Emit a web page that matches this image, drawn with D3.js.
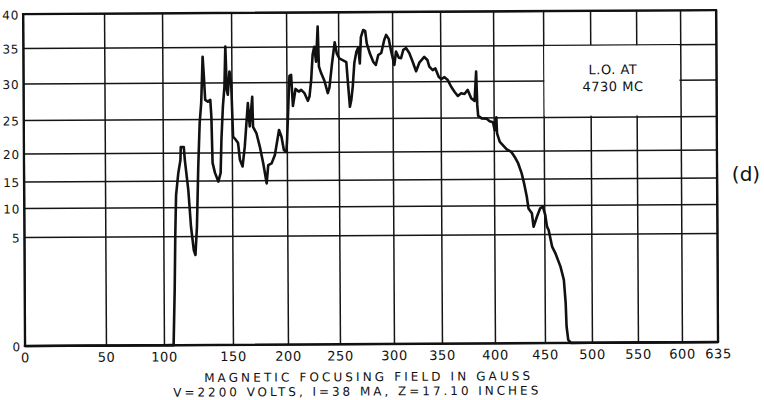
<!DOCTYPE html>
<html>
<head>
<meta charset="utf-8">
<script src="https://cdn.jsdelivr.net/npm/d3@7"></script>
<style>
  html, body { margin: 0; padding: 0; background: #ffffff; }
  svg { display: block; }
  text { font-family: "DejaVu Sans", "Liberation Sans", sans-serif; fill: #111; }
</style>
</head>
<body>
<svg id="chart" width="764" height="400"></svg>
<script>
// ---------------- data ----------------
const xTickValues = [0, 50, 100, 150, 200, 250, 300, 350, 400, 450, 500, 550, 600, 635];
const yTickValues = [0, 5, 10, 15, 20, 25, 30, 35, 40];

// magnetic focusing field (gauss)
const gauss = [0, 20, 40, 60, 80, 100, 105,
  107.0,108.0,108.7,109.4,111.1,112.7,113.0,115.2,115.9,118.3,
  120.1,122.0,123.2,124.4,125.6,126.8,128.0,128.8,129.2,129.9,
  130.9,132.8,134.6,135.3,136.0,137.7,140.1,141.8,142.5,143.7,
  144.9,145.7,146.6,147.3,148.6,149.8,151.2,153.6,155.7,157.3,
  159.7,161.8,164.8,166.4,168.8,169.4,172.5,175.5,178.5,181.5,
  183.0,186.1,189.1,193.0,195.2,197.3,199.5,200.3,201.9,202.9,
  204.5,206.1,208.7,211.8,214.1,217.3,220.5,222.1,223.8,225.3,
  226.9,228.6,230.3,231.3,233.4,236.5,239.7,241.3,243.9,246.6,
  248.6,250.9,254.0,257.4,258.6,260.5,261.8,263.2,264.8,266.7,
  268.5,269.9,271.0,273.1,275.0,276.4,279.2,282.4,284.7,287.0,
  289.8,292.6,294.4,296.8,299.1,302.1,303.9,306.8,309.1,311.5,
  314.3,317.7,321.1,324.7,328.1,333.3,336.5,338.5,342.0,344.8,
  348.2,350.7,353.8,356.9,360.1,363.2,366.3,369.5,372.6,375.7,
  378.9,382.1,383.7,384.6,385.4,388.7,393.1,396.2,399.3,401.0,
  402.7,403.3,406.0,412.7,417.7,421.0,424.3,427.7,430.0,432.7,
  434.3,437.7,439.3,442.7,446.0,448.7,451.1,452.9,454.6,458.2,
  461.7,467.0,470.5,472.3,473.1,474.8,477.7,
  500, 530, 560, 600, 635];

// output reading
const output = [0, 0, 0, 0, 0, 0, 0,
  0,2.52,5.52,12.26,16.34,18.66,20.82,20.82,18.66,13.21,
  6.6,4.36,4.13,6.6,17.46,24.4,27.19,31.34,33.63,31.34,
  27.6,27.37,27.6,25.32,18.13,16.34,14.77,16.34,21.87,26.68,
  29.42,35.04,28.97,28.29,31.52,29.89,22.36,21.87,21.37,18.66,
  17.46,20.87,27.15,23.85,27.99,23.78,22.79,20.79,17.98,14.38,
  17.68,17.98,19.46,23.28,22.28,20.3,20.0,21.79,27.53,30.85,
  30.99,26.71,29.04,28.67,28.9,28.45,27.4,27.99,30.28,33.8,
  34.93,32.82,37.91,32.15,31.23,30.14,28.45,29.18,32.54,35.59,
  33.94,33.27,33.03,32.75,30.21,26.55,27.47,29.29,32.61,34.15,
  34.79,32.56,36.32,37.35,37.21,35.4,33.97,32.75,32.32,33.73,
  34.01,35.88,36.62,36.03,34.15,32.32,34.2,33.31,33.27,34.44,
  34.68,33.97,32.79,31.41,32.61,33.41,32.99,32.04,31.55,31.79,
  30.61,30.28,30.56,30.14,29.22,28.53,27.95,28.32,28.22,28.77,
  27.63,27.26,31.31,26.71,25.21,24.85,24.81,24.4,24.25,23.06,
  25.0,22.61,21.31,20.22,19.73,18.84,17.71,15.93,14.15,11.57,
  9.43,8.57,6.26,7.98,9.43,9.71,8.28,6.26,5.69,4.42,
  4.11,3.5,2.89,1.82,0.75,0.14,0,
  0, 0, 0, 0, 0];

const xTitle = "MAGNETIC FOCUSING FIELD IN GAUSS";
const xSubtitle = "V=2200 VOLTS, I=38 MA, Z=17.10 INCHES";
const boxLines = ["L.O. AT", "4730 MC"];
const panelLabel = "(d)";

// ---------------- layout (hand-ruled, non-uniform grid of the original) ----------------
const xGridPx = [24, 105, 163, 232, 287, 339, 393, 441, 494, 544, 591, 637, 681, 717];
const yGridPx = [344, 235, 206, 179.5, 151.5, 118, 81.5, 46, 12];

const x = d3.scaleLinear().domain(xTickValues).range(xGridPx);
const y = d3.scaleLinear().domain(yTickValues).range(yGridPx);

const svg = d3.select("#chart");
svg.append("rect").attr("width", 764).attr("height", 400).attr("fill", "#ffffff");

const g = svg.append("g").attr("transform", "rotate(-0.33, 370, 178)");

const plotLeft = x(0), plotRight = x(635), plotTop = y(40), plotBottom = y(0);

// vertical grid
const xGrid = g.append("g").attr("transform", `translate(0,${plotBottom})`)
  .call(d3.axisBottom(x).tickValues(xTickValues).tickSizeInner(-(plotBottom - plotTop)).tickSizeOuter(0).tickFormat(""));
xGrid.select(".domain").remove();
xGrid.selectAll("line").attr("stroke", "#151515").attr("stroke-width", 1.5);

// horizontal grid
const yGrid = g.append("g").attr("transform", `translate(${plotLeft},0)`)
  .call(d3.axisLeft(y).tickValues(yTickValues).tickSizeInner(-(plotRight - plotLeft)).tickSizeOuter(0).tickFormat(""));
yGrid.select(".domain").remove();
yGrid.selectAll("line").attr("stroke", "#151515").attr("stroke-width", 1.5);

// white note box (grid interrupted)
g.append("rect")
  .attr("x", x(450) + 1).attr("y", y(35) + 1)
  .attr("width", x(600) - x(450) - 2).attr("height", y(25) - y(35) - 2)
  .attr("fill", "#ffffff");

// frame
g.append("rect")
  .attr("x", plotLeft).attr("y", plotTop).attr("width", plotRight - plotLeft).attr("height", plotBottom - plotTop)
  .attr("fill", "none").attr("stroke", "#111").attr("stroke-width", 2.2);

// x tick labels
const xLab = g.append("g").attr("transform", `translate(0,${plotBottom + 7})`)
  .call(d3.axisBottom(x).tickValues(xTickValues).tickSize(0).tickPadding(0).tickFormat(d3.format("d")));
xLab.select(".domain").remove();
xLab.selectAll("text")
  .attr("font-size", 13).attr("letter-spacing", "0.6px")
  .attr("font-family", "DejaVu Sans, sans-serif").attr("fill", "#111");

// y tick labels
const yLab = g.append("g").attr("transform", `translate(${plotLeft - 4},0)`)
  .call(d3.axisLeft(y).tickValues(yTickValues).tickSize(0).tickPadding(0).tickFormat(d3.format("d")));
yLab.select(".domain").remove();
yLab.selectAll("text")
  .attr("font-size", 12).attr("letter-spacing", "0.8px").attr("dy", "0.4em")
  .attr("font-family", "DejaVu Sans, sans-serif").attr("fill", "#111");

// curve
const pts = gauss.map((d, i) => [d, output[i]]);
g.append("path")
  .datum(pts)
  .attr("fill", "none").attr("stroke", "#111").attr("stroke-width", 2.6)
  .attr("stroke-linejoin", "round").attr("stroke-linecap", "round")
  .attr("d", d3.line().x(d => x(d[0])).y(d => y(d[1])));

// box text
const boxCx = (x(450) + x(600)) / 2 + 1;
g.append("text").attr("x", boxCx).attr("y", y(30) - 6).attr("text-anchor", "middle")
  .attr("font-size", 13).attr("letter-spacing", "0.5px").text(boxLines[0]);
g.append("text").attr("x", boxCx).attr("y", y(30) + 11).attr("text-anchor", "middle")
  .attr("font-size", 13).attr("letter-spacing", "0.5px").text(boxLines[1]);

// axis titles
g.append("text").attr("x", 203).attr("y", 381)
  .attr("font-size", 12).attr("textLength", 326).attr("lengthAdjust", "spacing").text(xTitle);
g.append("text").attr("x", 172).attr("y", 395.5)
  .attr("font-size", 12).attr("textLength", 365).attr("lengthAdjust", "spacing").text(xSubtitle);

// panel label
svg.append("text").attr("x", 746).attr("y", 181).attr("text-anchor", "middle")
  .attr("font-size", 20).text(panelLabel);
</script>
</body>
</html>
